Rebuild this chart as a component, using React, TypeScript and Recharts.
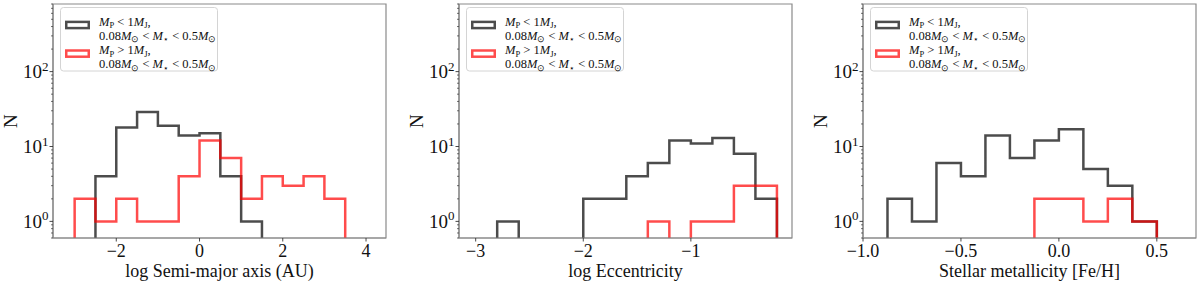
import React from "react";
import { Line, LineChart, ReferenceArea, XAxis, YAxis } from "recharts";

// bin edges and counts
const semiEdges = [-3, -2.5, -2, -1.5, -1, -0.5, 0, 0.5, 1, 1.5, 2, 2.5, 3, 3.5];
const semiLow = [0, 4, 18, 29, 19, 14, 15, 4, 1, 0, 0, 0, 0];
const semiHigh = [2, 1, 2, 1, 1, 4, 12, 7, 2, 4, 3, 4, 2];

const eccEdges = [-2.8, -2.6, -2.4, -2.2, -2, -1.8, -1.6, -1.4, -1.2, -1, -0.8, -0.6, -0.4, -0.2];
const eccLow = [1, 0, 0, 0, 2, 2, 4, 6, 12, 11, 13, 8, 2];
const eccHigh = [0, 0, 0, 0, 0, 0, 0, 1, 0, 1, 1, 3, 3];

const fehEdges = [-0.875, -0.75, -0.625, -0.5, -0.375, -0.25, -0.125, 0, 0.125, 0.25, 0.375, 0.5];
const fehLow = [2, 1, 6, 4, 14, 7, 12, 17, 5, 3, 1];
const fehHigh = [0, 0, 0, 0, 0, 0, 2, 2, 1, 2, 1];

const yTicks = [
  0.6, 0.7, 0.8, 0.9, 1, 2, 3, 4, 5, 6, 7, 8, 9, 10, 20, 30, 40, 50, 60, 70, 80, 90,
  100, 200, 300, 400, 500, 600, 700, 800,
];
const Y_DOMAIN: [number, number] = [0.6, 800];
const FLOOR = 0.1; // below the axis, gets clipped like matplotlib does with log(0)

const FONT = "'Liberation Serif', 'Times New Roman', serif";
const BLACK = "rgba(0,0,0,0.7)";
const RED = "rgba(255,0,0,0.7)";
const FRAME = "#8a8a8a";
const LEG_FS = 12.5;
const SUB_FS = 8.5;

// outline of a step histogram, drawn with stepAfter
function steps(edges: number[], counts: number[]) {
  const pts = [{ x: edges[0], n: FLOOR }];
  counts.forEach((c, i) => pts.push({ x: edges[i], n: c || FLOOR }));
  const last = edges[edges.length - 1];
  pts.push({ x: last, n: counts[counts.length - 1] || FLOOR });
  pts.push({ x: last, n: FLOOR });
  return pts;
}

const minus = (s: string) => s.replace("-", "\u2212");

function LogTick(props: any) {
  const { x, y, payload } = props;
  const v = payload.value;
  const k = Math.round(Math.log10(v));
  const major = Math.abs(v - Math.pow(10, k)) < 1e-9;
  return (
    <g>
      <line x1={x - (major ? 3.5 : 2)} x2={x} y1={y} y2={y} stroke="#333" strokeWidth={major ? 0.9 : 0.7} />
      {major && (
        <text x={x - 4.5} y={y + 6.5} textAnchor="end" fontFamily={FONT} fontSize={19} fill="#111">
          10<tspan dy={-7.5} fontSize={13}>{k}</tspan>
        </text>
      )}
    </g>
  );
}

function makeXTick(fmt: (v: number) => string) {
  return (props: any) => {
    const { x, y, payload } = props;
    return (
      <g>
        <line x1={x} x2={x} y1={y} y2={y + 3.5} stroke="#333" strokeWidth={0.9} />
        <text x={x} y={y + 19} textAnchor="middle" fontFamily={FONT} fontSize={18} fill="#111">
          {fmt(payload.value)}
        </text>
      </g>
    );
  };
}

function StarLine({ y }: { y: number }) {
  return (
    <text x={39} y={y} fontFamily={FONT} fontSize={LEG_FS} fill="#111">
      0.08<tspan fontStyle="italic">M</tspan>
      <tspan dy={2.5} fontSize={SUB_FS}>{"\u2299"}</tspan>
      <tspan dy={-2.5}>{" < "}</tspan>
      <tspan fontStyle="italic">M</tspan>
      <tspan dy={2.5} fontSize={SUB_FS}>{"\u22c6"}</tspan>
      <tspan dy={-2.5}>{" < 0.5"}</tspan>
      <tspan fontStyle="italic">M</tspan>
      <tspan dy={2.5} fontSize={SUB_FS}>{"\u2299"}</tspan>
    </text>
  );
}

function MassLine({ y, rel }: { y: number; rel: string }) {
  return (
    <text x={39} y={y} fontFamily={FONT} fontSize={LEG_FS} fill="#111">
      <tspan fontStyle="italic">M</tspan>
      <tspan dy={2.5} fontSize={SUB_FS}>P</tspan>
      <tspan dy={-2.5}>{` ${rel} 1`}</tspan>
      <tspan fontStyle="italic">M</tspan>
      <tspan dy={2.5} fontSize={SUB_FS}>J</tspan>
      <tspan dy={-2.5}>,</tspan>
    </text>
  );
}

function LegendBox() {
  return (
    <svg width={160} height={65} style={{ position: "absolute", left: 6.5, top: 6.5 }}>
      <rect x={0.5} y={0.5} width={157} height={63.5} rx={3} fill="rgba(255,255,255,0.8)" stroke="#d4d4d4" />
      <rect x={6.25} y={14.9} width={22.5} height={6.2} fill="none" stroke={BLACK} strokeWidth={2.5} />
      <MassLine y={18.5} rel="<" />
      <StarLine y={32.5} />
      <rect x={6.25} y={43.5} width={22.5} height={6.2} fill="none" stroke={RED} strokeWidth={2.5} />
      <MassLine y={47} rel=">" />
      <StarLine y={61} />
    </svg>
  );
}

function Panel({
  left,
  edges,
  low,
  high,
  xDomain,
  xTicks,
  fmt,
  xLabel,
}: {
  left: number;
  edges: number[];
  low: number[];
  high: number[];
  xDomain: [number, number];
  xTicks: number[];
  fmt: (v: number) => string;
  xLabel: string;
}) {
  const W = 395;
  const H = 285;
  return (
    <div style={{ position: "absolute", left: left - 60, top: 0, width: W, height: H }}>
      <LineChart width={W} height={H} margin={{ top: 4, right: 2, left: 0, bottom: 0 }}>
        <XAxis
          dataKey="x"
          type="number"
          domain={xDomain}
          allowDataOverflow
          ticks={xTicks}
          interval={0}
          height={47}
          tickSize={0}
          tickMargin={0}
          tickLine={false}
          axisLine={{ stroke: FRAME, strokeWidth: 1.2 }}
          tick={makeXTick(fmt)}
          label={{
            value: xLabel,
            position: "insideBottom",
            offset: 8,
            fontFamily: FONT,
            fontSize: 18,
            fill: "#111",
          }}
        />
        <YAxis
          type="number"
          scale="log"
          domain={Y_DOMAIN}
          allowDataOverflow
          ticks={yTicks}
          interval={0}
          width={60}
          tickSize={0}
          tickMargin={0}
          tickLine={false}
          axisLine={{ stroke: FRAME, strokeWidth: 1.2 }}
          tick={<LogTick />}
          label={{
            content: (p: any) => {
              const vb = p.viewBox;
              const cx = vb.x + 24;
              const cy = vb.y + vb.height / 2;
              return (
                <text
                  x={cx}
                  y={cy}
                  transform={`rotate(-90 ${cx} ${cy})`}
                  textAnchor="middle"
                  fontFamily={FONT}
                  fontSize={19}
                  fill="#111"
                >
                  N
                </text>
              );
            },
          }}
        />
        <Line
          data={steps(edges, low)}
          dataKey="n"
          type="stepAfter"
          stroke={BLACK}
          strokeWidth={2.5}
          strokeLinejoin="miter"
          dot={false}
          activeDot={false}
          isAnimationActive={false}
        />
        <Line
          data={steps(edges, high)}
          dataKey="n"
          type="stepAfter"
          stroke={RED}
          strokeWidth={2.5}
          strokeLinejoin="miter"
          dot={false}
          activeDot={false}
          isAnimationActive={false}
        />
        <ReferenceArea
          x1={xDomain[0]}
          x2={xDomain[1]}
          y1={Y_DOMAIN[0]}
          y2={Y_DOMAIN[1]}
          fill="none"
          stroke={FRAME}
          strokeWidth={1.2}
          ifOverflow="visible"
        />
      </LineChart>
      <div style={{ position: "absolute", left: 60, top: 0 }}>
        <LegendBox />
      </div>
    </div>
  );
}

export default function App() {
  return (
    <div style={{ position: "absolute", left: 0, top: 0, width: 1200, height: 285, background: "#fff", overflow: "hidden" }}>
      <Panel
        left={53}
        edges={semiEdges}
        low={semiLow}
        high={semiHigh}
        xDomain={[-3.52, 4.48]}
        xTicks={[-2, 0, 2, 4]}
        fmt={(v) => minus(String(v))}
        xLabel="log Semi-major axis (AU)"
      />
      <Panel
        left={459}
        edges={eccEdges}
        low={eccLow}
        high={eccHigh}
        xDomain={[-3.155, -0.06]}
        xTicks={[-3, -2, -1]}
        fmt={(v) => minus(String(v))}
        xLabel="log Eccentricity"
      />
      <Panel
        left={863}
        edges={fehEdges}
        low={fehLow}
        high={fehHigh}
        xDomain={[-1.0, 0.7]}
        xTicks={[-1, -0.5, 0, 0.5]}
        fmt={(v) => minus(v.toFixed(1))}
        xLabel="Stellar metallicity [Fe/H]"
      />
    </div>
  );
}
